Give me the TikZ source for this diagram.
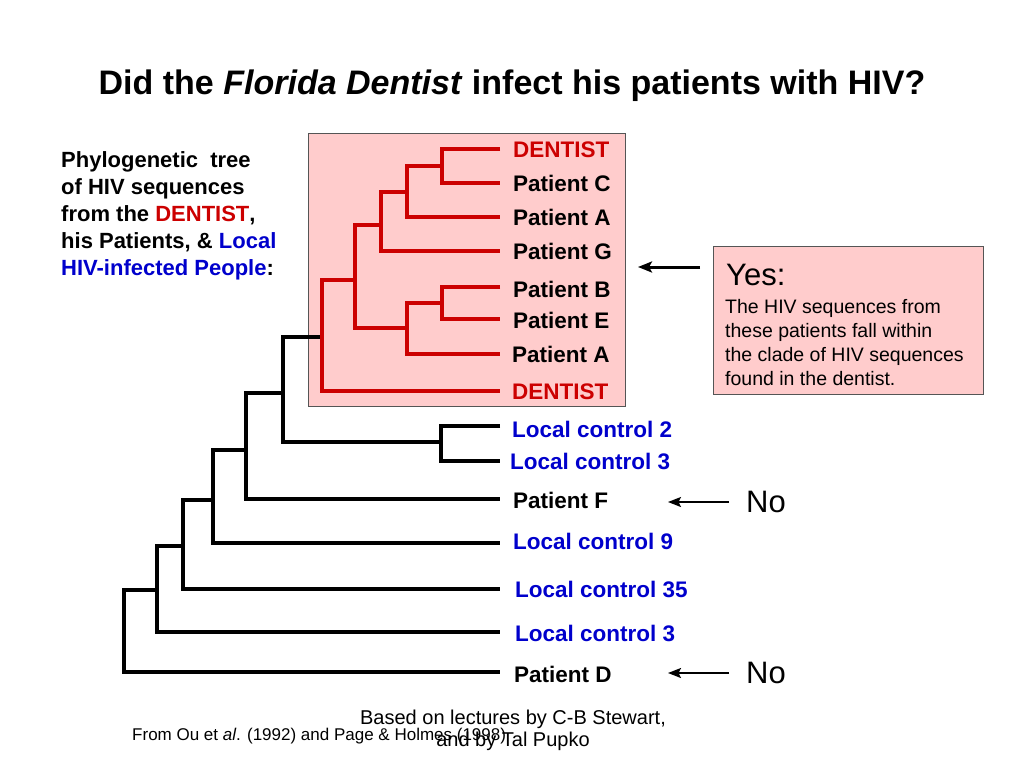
\documentclass[tikz,border=0pt]{standalone}
\usepackage{fontspec}
\setmainfont{Liberation Sans}
\usetikzlibrary{arrows.meta}
\definecolor{dred}{HTML}{CC0000}
\definecolor{dblue}{HTML}{0000CC}
\definecolor{pinkf}{HTML}{FFCCCC}
\definecolor{boxedge}{HTML}{555555}
\begin{document}
\begin{tikzpicture}[x=1pt,y=-1pt,
  blkbr/.style={line width=4pt, draw=black, line join=miter},
  redbr/.style={line width=4pt, draw=dred, line join=miter},
  leaf/.style={anchor=base west, inner sep=0pt, font=\fontsize{22.5}{27}\bfseries\selectfont},
  bigtxt/.style={anchor=base west, inner sep=0pt, font=\fontsize{31}{36}\selectfont},
  yesarr/.style={line width=3pt, -{Stealth[length=14pt,width=11pt,inset=3pt]}},
  noarr/.style={line width=2pt, -{Stealth[length=13pt,width=10pt,inset=2.5pt]}}]
\useasboundingbox[fill=white] (0,0) rectangle (1024,768);

% title
\node[anchor=base, inner sep=0pt, font=\fontsize{34}{40}\bfseries\selectfont] (title) at (512,94)
  {Did the \textit{Florida Dentist} infect his patients with HIV?};

% left caption
\node[anchor=north west, inner sep=0pt, align=left, font=\fontsize{22}{27}\bfseries\selectfont] (caption) at (61,151)
  {Phylogenetic\ \ tree\\of HIV sequences\\from the \textcolor{dred}{DENTIST},\\his Patients, \& \textcolor{dblue}{Local}\\\textcolor{dblue}{HIV-infected People}:};

% clade box
\node[draw=boxedge, line width=1pt, fill=pinkf, anchor=north west, inner sep=0pt,
  minimum width=317pt, minimum height=273pt] (clade) at (308,133) {};

% leaf ends
\coordinate (tD1) at (500,149);
\coordinate (tC) at (500,183);
\coordinate (tA1) at (500,217);
\coordinate (tG) at (500,251);
\coordinate (tB) at (500,287);
\coordinate (tE) at (500,319);
\coordinate (tA2) at (500,354);
\coordinate (tD2) at (500,391);
\coordinate (tL2) at (500,426);
\coordinate (tL3a) at (500,461);
\coordinate (tF) at (500,499);
\coordinate (tL9) at (500,543);
\coordinate (tL35) at (500,589);
\coordinate (tL3b) at (500,632);
\coordinate (tPD) at (500,672);
% internal nodes
\coordinate (nDC) at (442,166);
\coordinate (nDCA) at (407,192);
\coordinate (nDCAG) at (381,225);
\coordinate (nBE) at (442,303);
\coordinate (nBEA) at (407,328);
\coordinate (nPat) at (355,280);
\coordinate (nRed) at (322,337);
\coordinate (nLC) at (441,442);
\coordinate (n7) at (283,393);
\coordinate (n8) at (246,450);
\coordinate (n9) at (213,500);
\coordinate (n10) at (183,546);
\coordinate (n11) at (157,590);
\coordinate (nRoot) at (124,590);

% black branches
\draw[blkbr] (nRed) -| (n7) |- (nLC);
\draw[blkbr] (tL2) -| (nLC) |- (tL3a);
\draw[blkbr] (n7) -| (n8) |- (tF);
\draw[blkbr] (n8) -| (n9) |- (tL9);
\draw[blkbr] (n9) -| (n10) |- (tL35);
\draw[blkbr] (n10) -| (n11) |- (tL3b);
\draw[blkbr] (n11) -| (nRoot) |- (tPD);

% red branches
\draw[redbr] (tD1) -| (nDC) |- (tC);
\draw[redbr] (nDC) -| (nDCA) |- (tA1);
\draw[redbr] (nDCA) -| (nDCAG) |- (tG);
\draw[redbr] (tB) -| (nBE) |- (tE);
\draw[redbr] (nBE) -| (nBEA) |- (tA2);
\draw[redbr] (nDCAG) -| (nPat) |- (nBEA);
\draw[redbr] (nPat) -| (nRed) |- (tD2);

% leaf labels
\node[leaf, text=dred] (lD1) at (513,157) {DENTIST};
\node[leaf] (lC) at (513,191) {Patient C};
\node[leaf] (lA1) at (513,225) {Patient A};
\node[leaf] (lG) at (513,259) {Patient G};
\node[leaf] (lB) at (513,297) {Patient B};
\node[leaf] (lE) at (513,328) {Patient E};
\node[leaf] (lA2) at (512,362) {Patient A};
\node[leaf, text=dred] (lD2) at (512,399) {DENTIST};
\node[leaf, text=dblue] (lL2) at (512,437) {Local control 2};
\node[leaf, text=dblue] (lL3a) at (510,469) {Local control 3};
\node[leaf] (lF) at (513,508) {Patient F};
\node[leaf, text=dblue] (lL9) at (513,549) {Local control 9};
\node[leaf, text=dblue] (lL35) at (515,597) {Local control 35};
\node[leaf, text=dblue] (lL3b) at (515,641) {Local control 3};
\node[leaf] (lPD) at (514,682) {Patient D};

% Yes box
\node[draw=boxedge, line width=1pt, fill=pinkf, anchor=north west, inner sep=0pt,
  minimum width=270pt, minimum height=148pt] (yesbox) at (713,246) {};
\node[bigtxt] (yes) at (726,285) {Yes:};
\node[anchor=north west, inner sep=0pt, align=left, font=\fontsize{19.5}{24}\selectfont] (yesbody) at (725,299)
  {The HIV sequences from\\these patients fall within\\the clade of HIV sequences\\found in the dentist.};

% arrows
\coordinate (yesS) at (700,267);
\coordinate (yesT) at (638,267);
\draw[yesarr] (yesS) -- (yesT);
\coordinate (no1S) at (729,502);
\coordinate (no1T) at (668,502);
\draw[noarr] (no1S) -- (no1T);
\node[bigtxt] (no1) at (746,512) {No};
\coordinate (no2S) at (729,673);
\coordinate (no2T) at (668,673);
\draw[noarr] (no2S) -- (no2T);
\node[bigtxt] (no2) at (746,683) {No};

% credits
\node[anchor=base west, inner sep=0pt, font=\fontsize{17}{20}\selectfont] (from) at (132,740)
  {From Ou et \textit{al}. (1992) and Page \& Holmes (1998)};
\node[anchor=north, inner sep=0pt, align=center, font=\fontsize{20}{22}\selectfont] (based) at (513,710)
  {Based on lectures by C-B Stewart,\\and by Tal Pupko};
\end{tikzpicture}
\end{document}
